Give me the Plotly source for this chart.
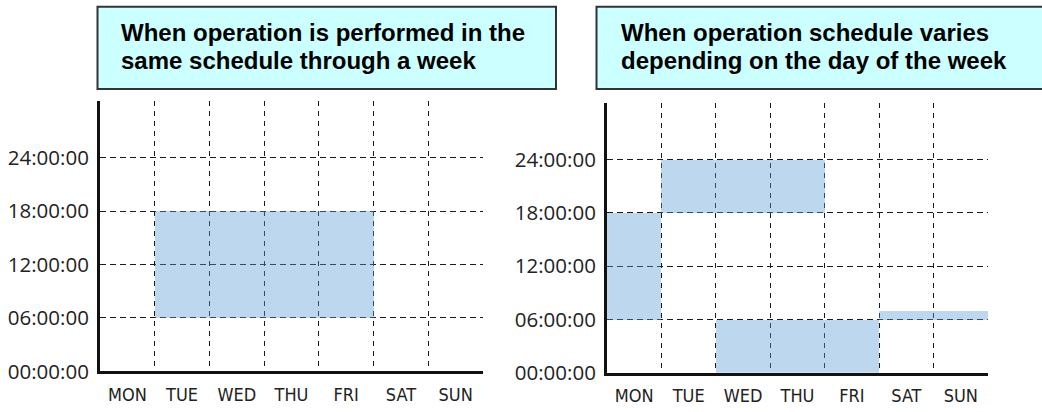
import plotly.graph_objects as go

# ---------------- data ----------------
days = ["MON", "TUE", "WED", "THU", "FRI", "SAT", "SUN"]
hour_ticks = [0, 6, 12, 18, 24]
hour_labels = ["00:00:00", "06:00:00", "12:00:00", "18:00:00", "24:00:00"]

# left panel: same schedule through the week (start/end hour per segment)
left_days = ["TUE", "WED", "THU", "FRI"]
left_start = [6, 6, 6, 6]
left_end = [18, 18, 18, 18]

# right panel: schedule varies by day of the week
right_days = ["MON", "TUE", "WED", "THU", "WED", "THU", "FRI", "SAT", "SUN"]
right_start = [6, 18, 18, 18, 0, 0, 0, 6, 6]
right_end = [18, 24, 24, 24, 6, 6, 6, 7, 7]

title_left = ["When operation is performed in the", "same schedule through a week"]
title_right = ["When operation schedule varies", "depending on the day of the week"]

# ---------------- styling ----------------
W, H = 1042, 412
BAR_COLOR = "rgba(91,155,213,0.40)"
GRID_COLOR = "#1a1a1a"
TICK_FONT_Y = dict(family="Open Sans, Noto Sans, DejaVu Sans, sans-serif", size=20.5, color="#222222")
TICK_FONT_X = dict(family="Liberation Sans Narrow, DejaVu Sans Condensed, Roboto Condensed, sans-serif",
                   size=18, color="#222222")
TITLE_FONT = dict(family="Liberation Sans, Arial, sans-serif", size=24, color="#000000")


def px_x(v):
    return v / W


def px_y(v):
    return 1 - v / H


fig = go.Figure()

idx = {d: i for i, d in enumerate(days)}

fig.add_trace(go.Bar(
    x=[idx[d] for d in left_days],
    base=left_start,
    y=[e - s for s, e in zip(left_start, left_end)],
    width=1, marker=dict(color=BAR_COLOR, line=dict(width=0)),
    xaxis="x", yaxis="y", showlegend=False, hoverinfo="skip",
))
fig.add_trace(go.Bar(
    x=[idx[d] for d in right_days],
    base=right_start,
    y=[e - s for s, e in zip(right_start, right_end)],
    width=1, marker=dict(color=BAR_COLOR, line=dict(width=0)),
    xaxis="x2", yaxis="y2", showlegend=False, hoverinfo="skip",
))

boundaries = [i + 0.5 for i in range(len(days) - 1)]


def xaxis_cfg(domain, anchor):
    return dict(
        domain=domain, anchor=anchor, range=[-0.5, len(days) - 0.5],
        tickmode="array", tickvals=list(range(len(days))), ticktext=days,
        tickfont=TICK_FONT_X, showgrid=False, zeroline=False,
        showline=True, linecolor="#111111", linewidth=3,
        ticks="outside", ticklen=5, tickcolor="rgba(0,0,0,0)",
        minor=dict(tickmode="array", tickvals=boundaries, showgrid=True,
                   gridcolor=GRID_COLOR, gridwidth=1.3, griddash="5px,5px", ticks=""),
        fixedrange=True,
    )


def yaxis_cfg(domain, anchor):
    return dict(
        domain=domain, anchor=anchor, range=[0, 30.4],
        tickmode="array", tickvals=hour_ticks, ticktext=hour_labels,
        tickfont=TICK_FONT_Y, showgrid=True, gridcolor=GRID_COLOR, gridwidth=1.3,
        griddash="6px,4px", zeroline=False,
        showline=True, linecolor="#111111", linewidth=3,
        ticks="outside", ticklen=4, tickcolor="rgba(0,0,0,0)",
        fixedrange=True,
    )


fig.update_layout(
    width=W, height=H, autosize=False,
    margin=dict(l=0, r=0, t=0, b=0),
    paper_bgcolor="white", plot_bgcolor="white",
    barmode="overlay", bargap=0,
    xaxis=xaxis_cfg([px_x(100), px_x(483)], "y"),
    yaxis=yaxis_cfg([px_y(383.5), px_y(104)], "x"),
    xaxis2=xaxis_cfg([px_x(607), px_x(988)], "y2"),
    yaxis2=yaxis_cfg([px_y(385), px_y(106)], "x2"),
)

# title boxes
for (x0, x1), lines, tx in [((97.5, 556), title_left, 119), ((596.5, 1046), title_right, 619)]:
    fig.add_shape(type="rect", xref="paper", yref="paper",
                  x0=px_x(x0), x1=px_x(x1), y0=px_y(92), y1=px_y(7),
                  fillcolor="#CCFFFF", line=dict(color="#333333", width=2), layer="above")
    for k, line in enumerate(lines):
        fig.add_annotation(xref="paper", yref="paper", x=px_x(tx), y=px_y(33.5 + 28.5 * k),
                           xanchor="left", yanchor="middle", showarrow=False,
                           text="<b>" + line + "</b>", font=TITLE_FONT)

fig.write_html("out.html", post_script="document.body.style.margin='0';",
               config={"displayModeBar": False})
